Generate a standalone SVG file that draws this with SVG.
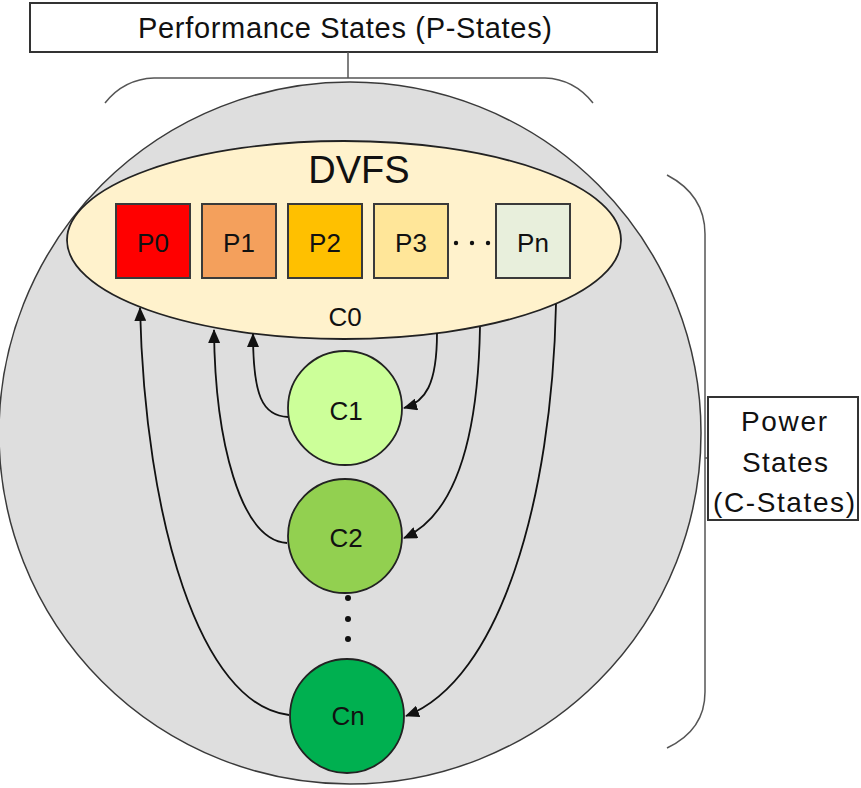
<svg xmlns="http://www.w3.org/2000/svg" width="861" height="788" viewBox="0 0 861 788">
<style>
text{font-family:"Liberation Sans","DejaVu Sans",sans-serif;fill:#111;}
.lbl{font-size:26px;text-anchor:middle;}
.box{stroke:#3a3a3a;stroke-width:2;}
.brace{fill:none;stroke:#555;stroke-width:1.5;}
.conn{fill:none;stroke:#111;stroke-width:1.8;}
.cs{stroke:#222;stroke-width:1.8;}
</style>
<defs>
<marker id="arr" markerUnits="userSpaceOnUse" markerWidth="14" markerHeight="12" viewBox="0 0 14 12" refX="13" refY="6" orient="auto">
<path d="M0,0 L14,6 L0,12 Z" fill="#111"/>
</marker>
</defs>
<rect width="861" height="788" fill="#fff"/>
<g id="pstates-label">
<rect x="30" y="3" width="627" height="49" fill="#fff" stroke="#333" stroke-width="2"/>
<text x="345" y="38" font-size="29" text-anchor="middle" textLength="414">Performance States (P-States)</text>
<line x1="348" y1="52" x2="348" y2="78" stroke="#555" stroke-width="1.5"/>
<path class="brace" d="M105,103 Q124,79 154,78 L545,78 Q574,79 593,103"/>
</g>
<g id="cstates-label">
<path class="brace" d="M667,175 Q705,195 705,234 L705,692 Q705,730 667,748"/>
<line x1="705" y1="458" x2="708" y2="458" stroke="#555" stroke-width="1.5"/>
<rect x="708" y="397" width="150" height="123" fill="#fff" stroke="#333" stroke-width="2"/>
<text x="784" y="431" font-size="28" text-anchor="middle" textLength="86">Power</text>
<text x="785" y="472" font-size="28" text-anchor="middle" textLength="86">States</text>
<text x="784" y="512" font-size="28" text-anchor="middle" textLength="142">(C-States)</text>
</g>
<g id="power-circle">
<circle cx="350" cy="433" r="351" fill="#dedede" stroke="#3a3a3a" stroke-width="1.5"/>
</g>
<g id="c0">
<ellipse cx="344" cy="240" rx="277" ry="99" fill="#fff2cc" stroke="#222" stroke-width="1.8"/>
<text x="359" y="183" font-size="38" text-anchor="middle">DVFS</text>
<text class="lbl" x="345" y="326">C0</text>
</g>
<g id="p0"><rect class="box" x="116" y="204" width="74" height="74" fill="#ff0000"/><text class="lbl" x="153" y="252">P0</text></g>
<g id="p1"><rect class="box" x="202" y="204" width="74" height="74" fill="#f4a05c"/><text class="lbl" x="239" y="252">P1</text></g>
<g id="p2"><rect class="box" x="288" y="204" width="74" height="74" fill="#ffc000"/><text class="lbl" x="325" y="252">P2</text></g>
<g id="p3"><rect class="box" x="374" y="204" width="74" height="74" fill="#ffe699"/><text class="lbl" x="411" y="252">P3</text></g>
<g id="pdots" fill="#111"><circle cx="456" cy="243" r="2.2"/><circle cx="472" cy="243" r="2.2"/><circle cx="488" cy="243" r="2.2"/></g>
<g id="pn"><rect class="box" x="496" y="204" width="74" height="74" fill="#e8efdc"/><text class="lbl" x="533" y="252">Pn</text></g>
<g id="connectors">
<path class="conn" d="M288,417 C262,416 253,395 253,334" marker-end="url(#arr)"/>
<path class="conn" d="M437,333 C437,385 425,402 404,408" marker-end="url(#arr)"/>
<path class="conn" d="M287,543 C240,540 215,440 214,330" marker-end="url(#arr)"/>
<path class="conn" d="M480,327 C478,440 455,515 404,538" marker-end="url(#arr)"/>
<path class="conn" d="M289,715 C200,705 145,520 140,308" marker-end="url(#arr)"/>
<path class="conn" d="M556,304 C552,500 500,680 406,716" marker-end="url(#arr)"/>
</g>
<g id="c1"><circle class="cs" cx="345" cy="408" r="57" fill="#ccff99"/><text class="lbl" x="346" y="420">C1</text></g>
<g id="c2"><circle class="cs" cx="345" cy="536" r="57" fill="#92d050"/><text class="lbl" x="346" y="547">C2</text></g>
<g id="cdots" fill="#111"><circle cx="348" cy="598" r="3"/><circle cx="348" cy="619" r="3"/><circle cx="348" cy="639" r="3"/></g>
<g id="cn"><circle class="cs" cx="347" cy="716" r="57" fill="#00b050"/><text class="lbl" x="348" y="725">Cn</text></g>
</svg>
